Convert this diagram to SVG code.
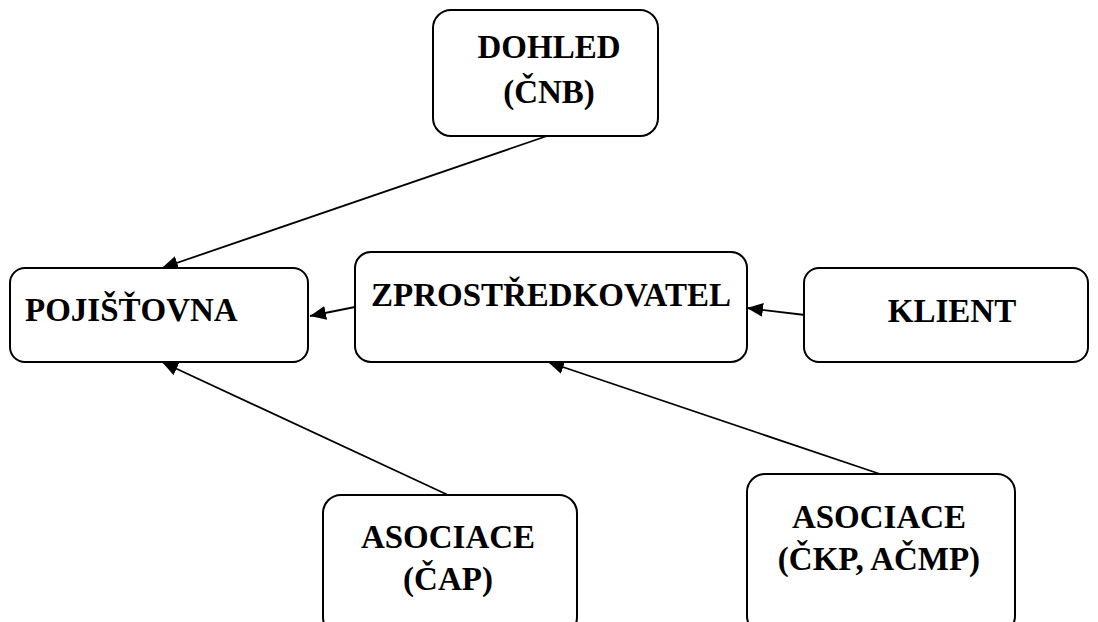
<svg xmlns="http://www.w3.org/2000/svg" width="1098" height="622" viewBox="0 0 1098 622">
<defs>
<style>
.box{fill:#fff;stroke:#000;stroke-width:2}
.t{font-family:"Liberation Serif","Times New Roman",serif;font-weight:bold;font-size:33px;fill:#000;text-anchor:middle}
.c{stroke:#000;stroke-width:1.8;fill:none;marker-end:url(#ah)}
</style>
<marker id="ah" markerUnits="userSpaceOnUse" markerWidth="18" markerHeight="14" refX="16" refY="7" orient="auto">
<polygon points="0,0 16,7 0,14" fill="#000"/>
</marker>
</defs>
<rect width="1098" height="622" fill="#fff"/>
<g id="connectors">
<line class="c" x1="547" y1="136" x2="162" y2="268"/>
<line class="c" x1="355" y1="307" x2="310" y2="316"/>
<line class="c" x1="805" y1="315" x2="747" y2="308"/>
<line class="c" x1="448" y1="495" x2="162" y2="362"/>
<line class="c" x1="880" y1="474" x2="548" y2="362"/>
</g>
<g id="dohled">
<rect class="box" x="433" y="10" width="225" height="126" rx="18"/>
<text class="t" x="549" y="58">DOHLED</text>
<text class="t" x="549" y="103">(ČNB)</text>
</g>
<g id="pojistovna">
<rect class="box" x="10" y="268" width="298" height="94" rx="15"/>
<text class="t" x="25" y="321" style="text-anchor:start">POJIŠŤOVNA</text>
</g>
<g id="zprostredkovatel">
<rect class="box" x="355" y="252" width="392" height="110" rx="16"/>
<text class="t" x="551" y="306">ZPROSTŘEDKOVATEL</text>
</g>
<g id="klient">
<rect class="box" x="804" y="268" width="284" height="94" rx="15"/>
<text class="t" x="952" y="322">KLIENT</text>
</g>
<g id="asociace-cap">
<rect class="box" x="323" y="495" width="254" height="140" rx="18"/>
<text class="t" x="448" y="548">ASOCIACE</text>
<text class="t" x="448" y="590">(ČAP)</text>
</g>
<g id="asociace-ckp">
<rect class="box" x="747" y="474" width="268" height="160" rx="18"/>
<text class="t" x="879" y="528">ASOCIACE</text>
<text class="t" x="879" y="570">(ČKP, AČMP)</text>
</g>
</svg>
